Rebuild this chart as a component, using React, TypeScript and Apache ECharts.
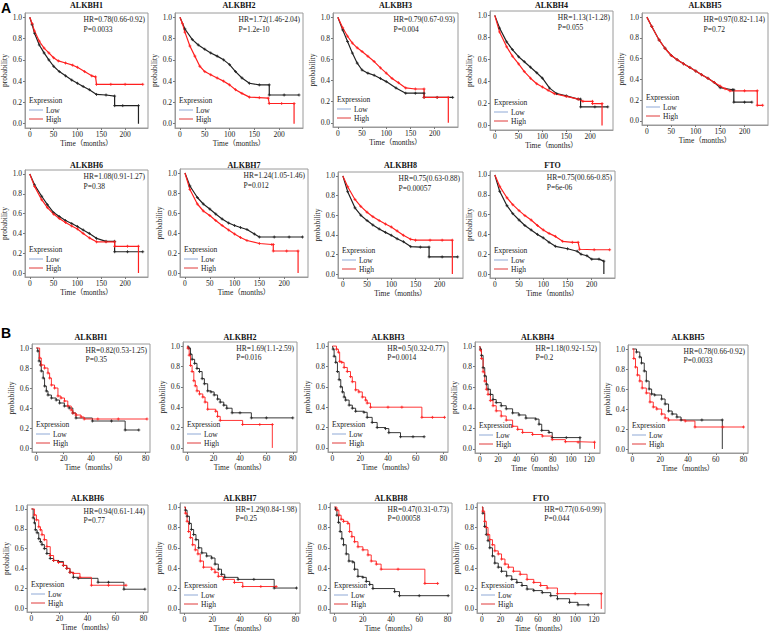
import React, { useEffect, useRef } from 'react';
import * as echarts from 'echarts';

const TITLES = ['ALKBH1', 'ALKBH2', 'ALKBH3', 'ALKBH4', 'ALKBH5', 'ALKBH6', 'ALKBH7', 'ALKBH8', 'FTO'];
const HR_A = ['HR=0.78(0.66-0.92)', 'HR=1.72(1.46-2.04)', 'HR=0.79(0.67-0.93)', 'HR=1.13(1-1.28)', 'HR=0.97(0.82-1.14)', 'HR=1.08(0.91-1.27)', 'HR=1.24(1.05-1.46)', 'HR=0.75(0.63-0.88)', 'HR=0.75(00.66-0.85)'];
const P_A = ['P=0.0033', 'P=1.2e-10', 'P=0.004', 'P=0.055', 'P=0.72', 'P=0.38', 'P=0.012', 'P=0.00057', 'P=6e-06'];
const HR_B = ['HR=0.82(0.53-1.25)', 'HR=1.69(1.1-2.59)', 'HR=0.5(0.32-0.77)', 'HR=1.18(0.92-1.52)', 'HR=0.78(0.66-0.92)', 'HR=0.94(0.61-1.44)', 'HR=1.29(0.84-1.98)', 'HR=0.47(0.31-0.73)', 'HR=0.77(0.6-0.99)'];
const P_B = ['P=0.35', 'P=0.016', 'P=0.0014', 'P=0.2', 'P=0.0033', 'P=0.77', 'P=0.25', 'P=0.00058', 'P=0.044'];

const X_TICKS_A = [0, 50, 100, 150, 200];
const X_TICKS_B = [0, 20, 40, 60, 80];
const X_TICKS_B_LONG = [0, 20, 40, 60, 80, 100, 120];
const Y_TICKS = [0, 0.2, 0.4, 0.6, 0.8, 1.0];
const LEGEND_LABELS = ['Expression', 'Low', 'High'];

// ---- Panel A (months, Low = black, High = red) ----
const A1_low = [[0,1],[5,0.93],[10,0.85],[20,0.74],[30,0.665],[40,0.6],[50,0.54],[62,0.49],[75,0.45],[88,0.41],[100,0.38],[112,0.35],[125,0.32],[140,0.275],[160,0.27],[178,0.26],[178,0.17],[195,0.17],[228,0.17],[228,0]];
const A1_high = [[0,1],[5,0.94],[10,0.87],[20,0.775],[30,0.71],[40,0.665],[50,0.62],[60,0.59],[75,0.57],[90,0.55],[100,0.53],[115,0.49],[130,0.45],[138,0.44],[140,0.37],[170,0.37],[200,0.37],[237,0.37]];
const A2_low = [[0,1],[10,0.89],[25,0.79],[37,0.74],[50,0.7],[62,0.665],[75,0.635],[88,0.6],[100,0.555],[112,0.49],[125,0.43],[140,0.38],[160,0.365],[180,0.365],[180,0.27],[210,0.27],[240,0.27]];
const A2_high = [[0,1],[5,0.94],[10,0.86],[20,0.73],[30,0.635],[40,0.54],[50,0.49],[62,0.46],[75,0.43],[88,0.4],[100,0.365],[112,0.32],[125,0.285],[140,0.25],[160,0.245],[178,0.24],[180,0.19],[205,0.19],[230,0.19],[230,0]];
const A3_low = [[0,1],[10,0.88],[20,0.77],[30,0.66],[40,0.565],[50,0.5],[62,0.47],[75,0.45],[88,0.42],[100,0.39],[120,0.33],[140,0.28],[160,0.28],[178,0.28],[178,0.24],[205,0.24],[237,0.24]];
const A3_high = [[0,1],[10,0.9],[20,0.82],[30,0.755],[40,0.71],[50,0.675],[62,0.63],[75,0.58],[88,0.52],[100,0.47],[112,0.42],[125,0.38],[140,0.33],[160,0.32],[178,0.32],[178,0.24],[205,0.24],[228,0.24],[228,0]];
const A4_low = [[0,1],[10,0.885],[25,0.76],[37,0.69],[50,0.625],[62,0.58],[75,0.53],[88,0.48],[100,0.43],[115,0.34],[130,0.29],[150,0.27],[175,0.24],[180,0.24],[180,0.17],[210,0.17],[237,0.17]];
const A4_high = [[0,1],[10,0.85],[25,0.715],[37,0.63],[50,0.56],[62,0.49],[75,0.43],[88,0.38],[100,0.35],[112,0.32],[125,0.29],[150,0.265],[175,0.24],[185,0.22],[205,0.22],[205,0.2],[225,0.2],[225,0]];
const A5_low = [[0,1],[10,0.91],[25,0.78],[37,0.7],[50,0.63],[62,0.59],[75,0.55],[88,0.515],[100,0.48],[112,0.445],[125,0.41],[138,0.37],[150,0.32],[175,0.3],[178,0.3],[178,0.18],[200,0.18],[215,0.18]];
const A5_high = [[0,1],[10,0.91],[25,0.78],[37,0.7],[50,0.63],[62,0.59],[75,0.55],[88,0.515],[100,0.48],[112,0.445],[125,0.41],[138,0.37],[150,0.335],[160,0.31],[170,0.29],[200,0.29],[226,0.29],[226,0.15],[237,0.15]];
const A6_low = [[0,1],[10,0.89],[25,0.775],[37,0.69],[50,0.61],[62,0.57],[75,0.53],[88,0.5],[100,0.47],[112,0.435],[125,0.4],[140,0.35],[160,0.32],[178,0.32],[178,0.215],[205,0.215],[237,0.215]];
const A6_high = [[0,1],[10,0.875],[25,0.74],[37,0.66],[50,0.595],[62,0.55],[75,0.51],[88,0.475],[100,0.445],[112,0.4],[125,0.355],[140,0.315],[160,0.315],[178,0.315],[178,0.27],[205,0.27],[228,0.27],[228,0]];
const A7_low = [[0,1],[10,0.87],[25,0.755],[37,0.69],[50,0.64],[62,0.59],[75,0.54],[88,0.5],[100,0.475],[112,0.455],[125,0.435],[140,0.39],[150,0.36],[180,0.36],[210,0.36],[237,0.36]];
const A7_high = [[0,1],[10,0.835],[25,0.69],[37,0.62],[50,0.575],[62,0.525],[75,0.475],[88,0.43],[100,0.39],[112,0.355],[125,0.325],[150,0.295],[175,0.285],[178,0.285],[178,0.22],[205,0.22],[228,0.22],[228,0]];
const A8_low = [[0,1],[10,0.84],[25,0.675],[37,0.6],[50,0.545],[62,0.5],[75,0.46],[88,0.425],[100,0.395],[112,0.36],[125,0.33],[140,0.28],[160,0.275],[178,0.275],[178,0.175],[205,0.175],[237,0.175]];
const A8_high = [[0,1],[10,0.89],[25,0.76],[37,0.69],[50,0.63],[62,0.585],[75,0.545],[88,0.51],[100,0.48],[112,0.44],[125,0.395],[140,0.355],[150,0.345],[180,0.345],[205,0.345],[226,0.345],[226,0]];
const A9_low = [[0,1],[10,0.835],[25,0.69],[37,0.61],[50,0.545],[62,0.49],[75,0.445],[88,0.4],[100,0.365],[112,0.32],[125,0.28],[150,0.255],[170,0.23],[178,0.2],[190,0.185],[200,0.15],[215,0.15],[225,0.13],[225,0]];
const A9_high = [[0,1],[10,0.885],[25,0.77],[37,0.7],[50,0.64],[62,0.59],[75,0.545],[88,0.49],[100,0.445],[112,0.41],[125,0.38],[140,0.33],[160,0.32],[172,0.32],[175,0.25],[205,0.245],[237,0.245]];

// ---- Panel B (months, Kaplan-Meier steps) ----
const B1_low = [[0,1],[1,0.97],[2,0.87],[3,0.83],[3.6,0.77],[5,0.7],[6,0.62],[7.3,0.57],[8.5,0.53],[11,0.5],[14.5,0.48],[17,0.45],[20.5,0.42],[24,0.4],[26.7,0.35],[29,0.3],[41,0.27],[55,0.27],[65,0.18],[75,0.18]];
const B1_high = [[0,1],[2.4,0.9],[3.6,0.83],[6,0.8],[8.5,0.75],[9.7,0.7],[11,0.63],[13.3,0.6],[15.8,0.52],[18,0.5],[20.6,0.47],[23,0.42],[25.5,0.38],[26.7,0.35],[29,0.33],[32.7,0.31],[35,0.29],[45,0.29],[60,0.29],[81,0.29]];
const B2_low = [[0,1],[1.2,0.98],[2.5,0.92],[3.7,0.87],[5.6,0.83],[7.4,0.78],[9.3,0.75],[11.3,0.68],[13,0.63],[15.5,0.56],[18,0.55],[20.4,0.52],[23,0.48],[25,0.45],[27.7,0.42],[30,0.39],[34,0.345],[40,0.345],[48.6,0.295],[60,0.295],[80,0.295]];
const B2_high = [[0,1],[0.5,0.98],[1.5,0.91],[2.5,0.81],[3.7,0.75],[5,0.66],[6.1,0.61],[7.4,0.56],[9.3,0.53],[11.8,0.5],[13.5,0.45],[15.5,0.38],[21.6,0.36],[23,0.31],[25,0.27],[42,0.23],[55,0.23],[64.5,0.23],[64.5,0]];
const B3_low = [[0,1],[0.5,0.97],[1.2,0.9],[2.4,0.84],[3.6,0.75],[4.8,0.67],[6,0.6],[7.2,0.55],[8.4,0.5],[9.5,0.47],[12,0.42],[14.3,0.39],[16.7,0.36],[22.7,0.35],[25,0.3],[28.6,0.25],[32.2,0.2],[38.2,0.19],[40.6,0.15],[49,0.11],[58,0.11],[66,0.11]];
const B3_high = [[0,1],[2.9,0.97],[4.3,0.94],[5.2,0.85],[6.7,0.84],[8.4,0.79],[10.7,0.75],[13,0.7],[14.3,0.65],[16.7,0.57],[19,0.55],[21.5,0.5],[23.9,0.47],[25,0.44],[27.4,0.4],[40,0.4],[50,0.4],[64.4,0.3],[72,0.3],[80.7,0.3]];
const B4_low = [[0,1],[0.7,0.97],[1.8,0.91],[3.6,0.79],[5.4,0.71],[7.2,0.63],[9,0.58],[11.6,0.53],[14.5,0.48],[18,0.45],[23.5,0.42],[29,0.39],[36,0.35],[43,0.33],[50.6,0.3],[61.4,0.29],[65,0.24],[68,0.18],[76,0.16],[79.5,0.11],[95,0.11],[110,0.11],[110,0]];
const B4_high = [[0,1],[0.7,0.96],[1.8,0.88],[3.6,0.75],[5.4,0.66],[7.2,0.58],[9,0.53],[11.6,0.47],[14.5,0.42],[18,0.37],[23.5,0.32],[29,0.28],[36,0.22],[41.6,0.19],[47,0.16],[58,0.14],[68.7,0.125],[79.5,0.09],[94,0.07],[108,0.065],[126,0.065],[126,0]];
const B5_low = [[0,1],[2.9,0.97],[5.3,0.92],[6.5,0.86],[8.5,0.78],[10,0.68],[12,0.6],[13.8,0.55],[16,0.54],[21,0.5],[23.5,0.45],[26,0.38],[28.6,0.35],[32,0.32],[35,0.29],[50,0.29],[64.7,0.29],[64.7,0]];
const B5_high = [[0,1],[1,0.905],[2.2,0.82],[3.6,0.74],[5.3,0.68],[7,0.61],[10,0.56],[12.6,0.47],[15,0.42],[17.5,0.4],[21,0.35],[23.5,0.31],[26,0.29],[38,0.28],[45,0.22],[65,0.22],[80,0.22]];
const B6_low = [[0,1],[1.2,0.91],[2.1,0.86],[2.8,0.79],[4,0.76],[5.2,0.7],[6.4,0.67],[7.5,0.64],[9.2,0.6],[11,0.55],[13.4,0.5],[15.8,0.48],[19.3,0.47],[22.8,0.43],[25.2,0.4],[27.5,0.36],[29.9,0.31],[33.4,0.3],[47.5,0.26],[55,0.26],[66,0.19],[81,0.19]];
const B6_high = [[0,1],[2.1,0.94],[3.5,0.89],[5.2,0.82],[6.4,0.79],[7.5,0.74],[9.2,0.69],[11,0.62],[13.4,0.53],[15.8,0.48],[19.3,0.46],[22.8,0.43],[25.2,0.4],[27.5,0.36],[29.9,0.35],[34.6,0.31],[42.8,0.23],[55,0.23],[67.5,0.23]];
const B7_low = [[0,1],[0.7,0.97],[1.9,0.91],[3.6,0.84],[5,0.78],[6.6,0.73],[8.3,0.68],[10.2,0.6],[12.5,0.55],[16,0.52],[19.6,0.5],[22,0.44],[24.4,0.39],[26.7,0.34],[29,0.31],[38.6,0.29],[50,0.29],[64.6,0.205],[80.7,0.205]];
const B7_high = [[0,1],[0.7,0.94],[1.9,0.86],[3,0.76],[4.3,0.7],[5.9,0.63],[7.8,0.58],[9.7,0.54],[11.4,0.47],[13.7,0.41],[19.6,0.39],[22,0.36],[24.4,0.32],[28,0.29],[36,0.26],[42,0.22],[55,0.22],[66,0.22]];
const B8_low = [[0,1],[0.7,0.98],[1.7,0.92],[2.8,0.85],[4,0.76],[5.2,0.69],[6.4,0.63],[8.3,0.54],[10.2,0.47],[13,0.46],[14.2,0.39],[16.6,0.32],[20.1,0.31],[22.5,0.27],[24.9,0.24],[27.2,0.2],[42.6,0.17],[46,0.13],[60,0.13],[80.5,0.13]];
const B8_high = [[0,1],[1.7,0.97],[3.1,0.92],[4.7,0.88],[6.4,0.86],[9.5,0.84],[10.7,0.76],[12.3,0.71],[14.2,0.66],[16.6,0.61],[20.1,0.58],[23.7,0.53],[26,0.47],[29.6,0.44],[33,0.39],[45,0.39],[64,0.25],[73,0.25]];
const B9_low = [[0,1],[1,0.94],[2.9,0.81],[4.7,0.73],[6.5,0.67],[8.4,0.6],[11.3,0.52],[13.8,0.45],[17.5,0.41],[21,0.37],[26.5,0.325],[32,0.29],[37.5,0.26],[43,0.23],[48.4,0.195],[55.6,0.18],[64.7,0.16],[73.8,0.13],[81,0.1],[94,0.065],[103,0.04],[114,0.04]];
const B9_high = [[0,1],[1,0.96],[2.9,0.86],[4.7,0.8],[6.5,0.73],[8.4,0.68],[11.3,0.63],[13.8,0.57],[17.5,0.54],[21,0.49],[24.7,0.44],[28.4,0.41],[33.8,0.37],[41,0.34],[48.4,0.29],[55.6,0.26],[63,0.23],[70,0.205],[81,0.15],[100,0.15],[128,0.15],[128,0]];

const LOW_A = [A1_low, A2_low, A3_low, A4_low, A5_low, A6_low, A7_low, A8_low, A9_low];
const HIGH_A = [A1_high, A2_high, A3_high, A4_high, A5_high, A6_high, A7_high, A8_high, A9_high];
const LOW_B = [B1_low, B2_low, B3_low, B4_low, B5_low, B6_low, B7_low, B8_low, B9_low];
const HIGH_B = [B1_high, B2_high, B3_high, B4_high, B5_high, B6_high, B7_high, B8_high, B9_high];

// ---- layout (pixel boxes: left, top, width, height) ----
const BOXES_A = [[25,13,123,115],[175,13,128,115],[333,13,125,114],[490,11,123,119],[642,13,126,112],[25,170,123,107],[180,169,128,108],[338,172,125,106],[490,171,125,107]];
const BOXES_B = [[32,344,118,108],[183,342,114,110],[328,342,120,110],[475,342,125,111],[628,345,120,108],[27,505,121,107],[180,503,120,110],[330,503,122,110],[477,503,128,110]];
const TITLE_Y_A = [5, 165];
const TITLE_Y_B = [337, 498];

const SERIF = '"Liberation Serif", "Times New Roman", "Noto Sans CJK SC", serif';
const BLACK = '#222222';
const RED = '#ff1f1f';
const PLUS = 'path://M0,5L10,5M5,0L5,10';

function measure(text: string, size: number) {
  const c = document.createElement('canvas').getContext('2d');
  if (!c) return text.length * size * 0.45;
  c.font = `${size}px "Liberation Serif"`;
  return c.measureText(text).width;
}

export default function App() {
  const ref = useRef<HTMLDivElement>(null);
  useEffect(() => {
    if (!ref.current) return;
    const chart = echarts.init(ref.current, undefined, { renderer: 'svg' });

    type Plot = { box: number[]; title: string; titleY: number; hr: string; p: string; low: number[][]; high: number[][]; xMin: number; xMax: number; xTicks: number[]; step: boolean; pGap: number; lw: number };
    const plots: Plot[] = [];
    for (let i = 0; i < 9; i++) {
      plots.push({ box: BOXES_A[i], title: TITLES[i], titleY: TITLE_Y_A[i < 5 ? 0 : 1], hr: HR_A[i], p: P_A[i], low: LOW_A[i], high: HIGH_A[i], xMin: -10, xMax: 248, xTicks: X_TICKS_A, step: false, pGap: 10, lw: 1.2 });
    }
    for (let i = 0; i < 9; i++) {
      const long = i === 3 || i === 8;
      plots.push({ box: BOXES_B[i], title: TITLES[i], titleY: TITLE_Y_B[i < 5 ? 0 : 1], hr: HR_B[i], p: P_B[i], low: LOW_B[i], high: HIGH_B[i], xMin: long ? -5.3 : -3.2, xMax: long ? 132 : 83.2, xTicks: long ? X_TICKS_B_LONG : X_TICKS_B, step: true, pGap: 9, lw: 0.9 });
    }

    const toData = (arr: number[][]) => arr.map(([x, y], k) => (y === 0 || k === 0 ? { value: [x, y], symbol: 'none' } : [x, y]));
    const fs = 7.5;
    const txt = { fontFamily: SERIF, fontSize: fs, color: BLACK };

    const grid = plots.map((p) => ({ left: p.box[0], top: p.box[1], width: p.box[2], height: p.box[3], show: true, borderColor: '#9a9a9a', borderWidth: 1 }));
    const xAxis = plots.map((p, i) => ({
      type: 'value', gridIndex: i, min: p.xMin, max: p.xMax,
      axisLine: { show: true, onZero: false, lineStyle: { color: '#9a9a9a' } },
      axisTick: { show: true, length: 2, customValues: p.xTicks, lineStyle: { color: '#777' } },
      axisLabel: { customValues: p.xTicks, margin: 3, ...txt },
      splitLine: { show: false },
      name: 'Time（months）', nameLocation: 'middle', nameGap: 11, nameTextStyle: txt,
    }));
    const yAxis = plots.map((p, i) => ({
      type: 'value', gridIndex: i, min: -0.04, max: 1.04,
      axisLine: { show: true, onZero: false, lineStyle: { color: '#9a9a9a' } },
      axisTick: { show: true, length: 2, customValues: Y_TICKS, lineStyle: { color: '#777' } },
      axisLabel: { customValues: Y_TICKS, margin: 3, formatter: (v: number) => v.toFixed(1), ...txt },
      splitLine: { show: false },
      name: 'probability', nameLocation: 'middle', nameGap: 14, nameTextStyle: txt,
    }));
    const series: any[] = [];
    plots.forEach((p, i) => {
      [[p.low, BLACK, 'Low'], [p.high, RED, 'High']].forEach(([d, col, nm]: any) => {
        series.push({
          type: 'line', name: nm, xAxisIndex: i, yAxisIndex: i, data: toData(d),
          step: p.step ? 'end' : false, symbol: PLUS, symbolSize: 3, showSymbol: true,
          lineStyle: { color: col, width: p.lw }, itemStyle: { color: col, borderColor: col, borderWidth: 0.8 },
          silent: true,
        });
      });
    });

    const graphic: any[] = [];
    plots.forEach((p) => {
      const [l, t, w, h] = p.box;
      graphic.push({ type: 'text', x: l + w / 2, y: p.titleY, style: { text: p.title, fontFamily: SERIF, fontSize: 8, fontWeight: 'bold', fill: '#111', align: 'center', verticalAlign: 'middle' } });
      const hrW = measure(p.hr, fs);
      const hx = l + w - 3 - hrW;
      graphic.push({ type: 'text', x: hx, y: t + 6, style: { text: p.hr, fontFamily: SERIF, fontSize: fs, fill: BLACK, align: 'left', verticalAlign: 'middle' } });
      graphic.push({ type: 'text', x: hx, y: t + 6 + p.pGap, style: { text: p.p, fontFamily: SERIF, fontSize: fs, fill: BLACK, align: 'left', verticalAlign: 'middle' } });
      const b = t + h;
      graphic.push({ type: 'text', x: l + 4, y: b - 28, style: { text: LEGEND_LABELS[0], fontFamily: SERIF, fontSize: fs, fill: BLACK, align: 'left', verticalAlign: 'middle' } });
      graphic.push({ type: 'line', shape: { x1: l + 4, y1: b - 18, x2: l + 18, y2: b - 18 }, style: { stroke: '#8fa9d6', lineWidth: 1 } });
      graphic.push({ type: 'text', x: l + 21, y: b - 18, style: { text: LEGEND_LABELS[1], fontFamily: SERIF, fontSize: fs, fill: BLACK, align: 'left', verticalAlign: 'middle' } });
      graphic.push({ type: 'line', shape: { x1: l + 4, y1: b - 9, x2: l + 18, y2: b - 9 }, style: { stroke: '#e03a3a', lineWidth: 1 } });
      graphic.push({ type: 'text', x: l + 21, y: b - 9, style: { text: LEGEND_LABELS[2], fontFamily: SERIF, fontSize: fs, fill: BLACK, align: 'left', verticalAlign: 'middle' } });
    });
    graphic.push({ type: 'text', x: 1, y: 1, style: { text: 'A', fontFamily: '"Liberation Sans", Arial, sans-serif', fontSize: 14, fontWeight: 'bold', fill: '#000', align: 'left', verticalAlign: 'top' } });
    graphic.push({ type: 'text', x: 1, y: 326, style: { text: 'B', fontFamily: '"Liberation Sans", Arial, sans-serif', fontSize: 14, fontWeight: 'bold', fill: '#000', align: 'left', verticalAlign: 'top' } });

    chart.setOption({ animation: false, backgroundColor: '#ffffff', grid, xAxis, yAxis, series, graphic });
    return () => chart.dispose();
  }, []);
  return <div ref={ref} style={{ position: 'absolute', left: 0, top: 0, width: 770, height: 634 }} />;
}
